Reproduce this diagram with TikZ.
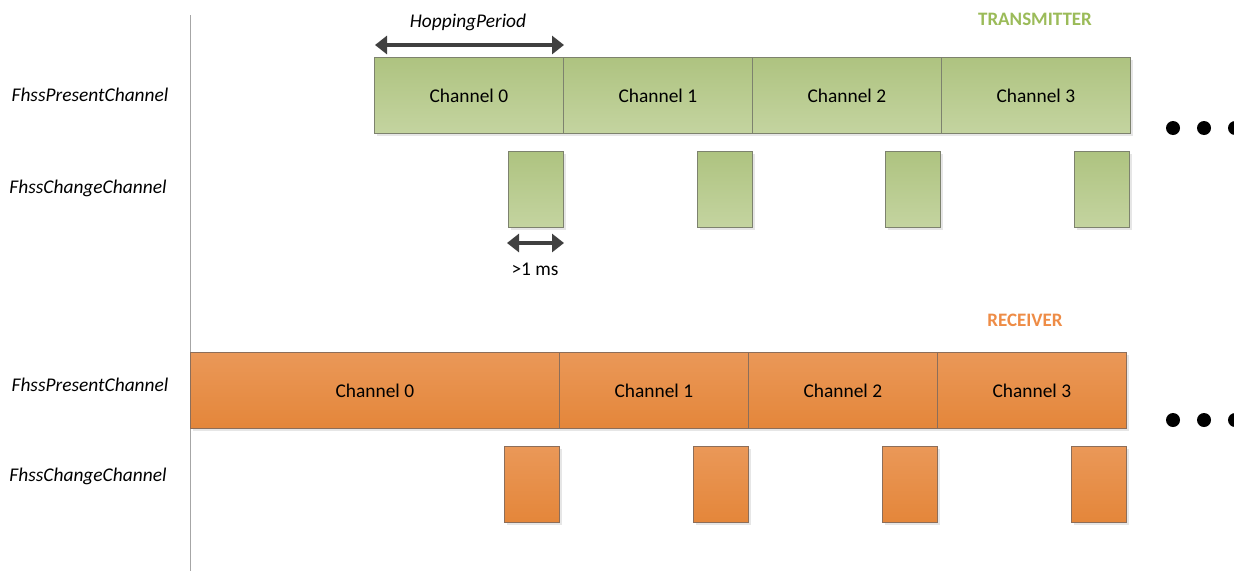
\documentclass[tikz,border=0pt]{standalone}
\usepackage{fontspec}
\setmainfont{Carlito}
\usetikzlibrary{arrows.meta,shadows}
\definecolor{txgreen}{RGB}{155,187,89}
\definecolor{gtop}{RGB}{174,195,128}
\definecolor{gbot}{RGB}{196,212,160}
\definecolor{gedge}{RGB}{125,130,110}
\definecolor{otop}{RGB}{234,152,88}
\definecolor{obot}{RGB}{228,134,58}
\definecolor{oedge}{RGB}{140,110,90}
\definecolor{rxorange}{RGB}{238,140,70}
\definecolor{arrowgray}{RGB}{64,64,64}
\tikzset{
  slot/.style={draw, line width=0.8pt, minimum height=76pt, inner sep=0pt,
    anchor=north west, font=\fontsize{19.4}{23}\selectfont,
    drop shadow={shadow xshift=3pt, shadow yshift=-3pt, opacity=0.2}},
  txslot/.style={slot, draw=gedge, top color=gtop, bottom color=gbot},
  rxslot/.style={slot, draw=oedge, top color=otop, bottom color=obot},
  siglabel/.style={font=\fontsize{19.4}{23}\selectfont\itshape, anchor=center},
  span/.style={{Triangle[width=18pt,length=12pt]}-{Triangle[width=18pt,length=12pt]},
    line width=4.5pt, draw=arrowgray},
  dot/.style={circle, fill=black, minimum size=14pt, inner sep=0pt}
}
\begin{document}
\begin{tikzpicture}[x=1pt,y=-1pt]
\useasboundingbox (0,0) rectangle (1234,571);
% time axis
\draw[gray!70, line width=0.8pt] (190,15) -- (190,571);

% signal names
\node[siglabel] (txp) at (90,95) {FhssPresentChannel};
\node[siglabel] (txc) at (88,188) {FhssChangeChannel};
\node[siglabel] (rxp) at (90,385) {FhssPresentChannel};
\node[siglabel] (rxc) at (88,476) {FhssChangeChannel};

% transmitter
\node[font=\fontsize{19}{22}\selectfont\bfseries, text=txgreen] (txt) at (1035,19) {TRANSMITTER};
\foreach \i/\x in {0/374,1/563,2/752,3/941}
  \node[txslot, minimum width=189pt] (t\i) at (\x,57) {Channel \i};
\foreach \i/\x in {0/508,1/697,2/885,3/1074}
  \node[txslot, minimum width=55pt] (tc\i) at (\x,151) {};
\coordinate (hpL) at (375,45);
\coordinate (hpR) at (564,45);
\draw[span] (hpL) -- (hpR);
\node[font=\fontsize{19.4}{23}\selectfont\itshape] (hp) at (468,22) {HoppingPeriod};
\coordinate (msL) at (507,243);
\coordinate (msR) at (564,243);
\draw[span] (msL) -- (msR);
\node[font=\fontsize{19.4}{23}\selectfont] (ms) at (535,269) {>1 ms};
\node[dot] (td1) at (1173,128) {};
\node[dot] (td2) at (1204,128) {};
\node[dot] (td3) at (1235,128) {};

% receiver
\node[font=\fontsize{19}{22}\selectfont\bfseries, text=rxorange] (rxt) at (1025,320) {RECEIVER};
\node[rxslot, minimum width=369pt] (r0) at (190,352) {Channel 0};
\foreach \i/\x in {1/559,2/748,3/937}
  \node[rxslot, minimum width=189pt] (r\i) at (\x,352) {Channel \i};
\foreach \i/\x in {0/504,1/693,2/882,3/1071}
  \node[rxslot, minimum width=55pt] (rc\i) at (\x,446) {};
\node[dot] (rd1) at (1173,420) {};
\node[dot] (rd2) at (1204,420) {};
\node[dot] (rd3) at (1235,420) {};
\end{tikzpicture}
\end{document}
